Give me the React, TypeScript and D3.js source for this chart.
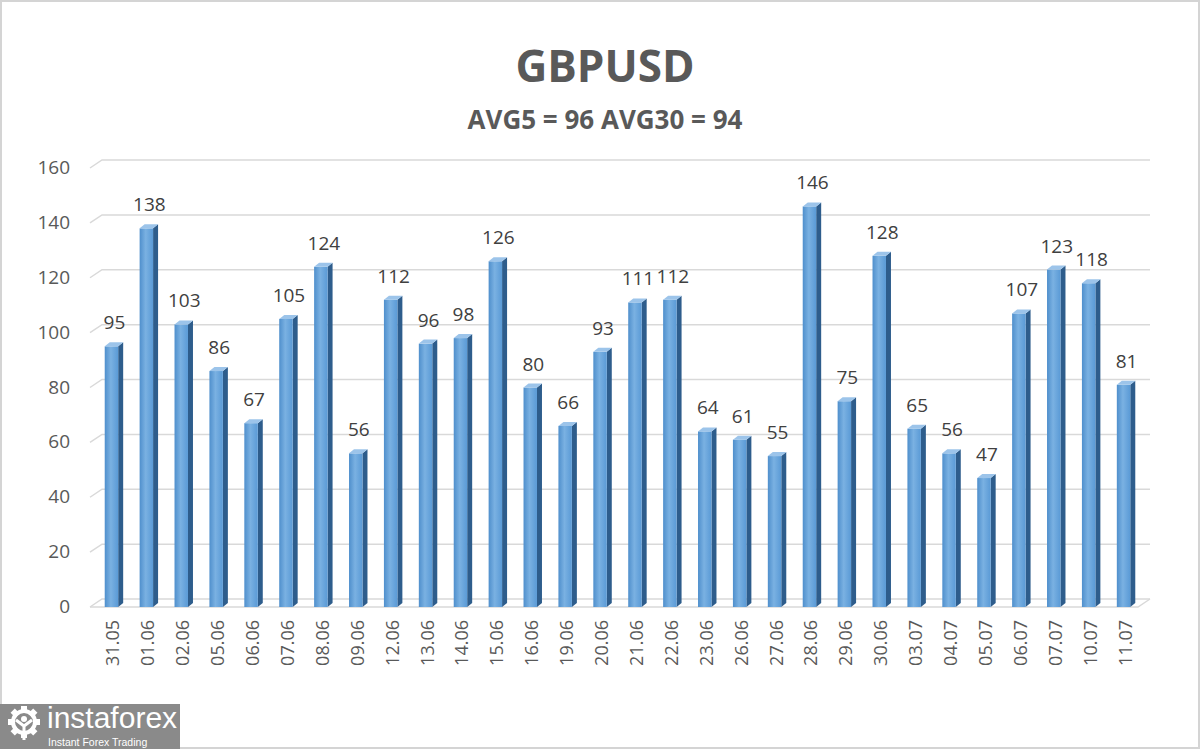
import { useRef, useEffect } from 'react';
import * as d3 from 'd3';

const dates = ['31.05', '01.06', '02.06', '05.06', '06.06', '07.06', '08.06', '09.06', '12.06', '13.06',
  '14.06', '15.06', '16.06', '19.06', '20.06', '21.06', '22.06', '23.06', '26.06', '27.06',
  '28.06', '29.06', '30.06', '03.07', '04.07', '05.07', '06.07', '07.07', '10.07', '11.07'];
const values = [95, 138, 103, 86, 67, 105, 124, 56, 112, 96, 98, 126, 80, 66, 93, 111, 112, 64, 61, 55,
  146, 75, 128, 65, 56, 47, 107, 123, 118, 81];
const yTicks = [0, 20, 40, 60, 80, 100, 120, 140, 160];
const title = 'GBPUSD';
const subtitle = 'AVG5 = 96 AVG30 = 94';

export default function App() {
  const svgRef = useRef<SVGSVGElement>(null);

  useEffect(() => {
    if (!svgRef.current) return;
    const width = 1200;
    const height = 749;
    const font = '"Open Sans", "Liberation Sans", sans-serif';
    const depthX = 12, depthY = 8; // 3d offset of back wall

    const svg = d3.select(svgRef.current);
    svg.selectAll('*').remove();
    svg.attr('width', width).attr('height', height);

    const defs = svg.append('defs');
    const grad = defs.append('linearGradient').attr('id', 'barFront')
      .attr('x1', 0).attr('x2', 1).attr('y1', 0).attr('y2', 0);
    grad.append('stop').attr('offset', '0%').attr('stop-color', '#4f8fcc');
    grad.append('stop').attr('offset', '45%').attr('stop-color', '#7ab1e2');
    grad.append('stop').attr('offset', '100%').attr('stop-color', '#5a9ad6');

    svg.append('rect').attr('x', 1).attr('y', 1).attr('width', width - 2).attr('height', height - 2)
      .attr('fill', '#fff').attr('stroke', '#d4d4d4').attr('stroke-width', 2);

    const x = d3.scaleBand().domain(dates).range([96, 1143]).paddingInner(0.5).paddingOuter(0.25);
    const yFront = d3.scaleLinear().domain([0, 160]).range([607, 168]);
    const yBack = (v: number) => yFront(v) - depthY;
    const plotLeft = 90, plotRight = 1138;

    // gridlines (back wall + floor)
    const grid = svg.append('g');
    yTicks.forEach(t => {
      grid.append('path')
        .attr('d', `M${plotLeft},${yFront(t)} L${plotLeft + depthX},${yBack(t)} L${plotRight + depthX},${yBack(t)}`)
        .attr('fill', 'none').attr('stroke', '#d9d9d9').attr('stroke-width', 1.5);
    });
    grid.append('path')
      .attr('d', `M${plotLeft},${yFront(0)} L${plotRight},${yFront(0)} L${plotRight + depthX},${yBack(0)}`)
      .attr('fill', 'none').attr('stroke', '#d9d9d9').attr('stroke-width', 1.5);

    // y labels
    svg.append('g').selectAll('text').data(yTicks).join('text')
      .attr('x', 70).attr('y', d => yFront(d) + 6)
      .attr('text-anchor', 'end').attr('font-family', font).attr('font-size', 19)
      .attr('fill', '#595959').text(d => d);

    // bars
    const bw = x.bandwidth();
    const side = 5, lift = 4;
    const bars = svg.append('g').selectAll('g').data(values).join('g');
    bars.append('path')
      .attr('d', (d, i) => {
        const x0 = x(dates[i])! + bw - side + 1;
        return `M${x0},${yFront(d)} L${x0 + side},${yFront(d) - lift} L${x0 + side},${yFront(0) - lift} L${x0},${yFront(0)} Z`;
      })
      .attr('fill', '#2e5d8c');
    bars.append('rect')
      .attr('x', (d, i) => x(dates[i])!)
      .attr('y', d => yFront(d))
      .attr('width', bw - side + 1)
      .attr('height', d => yFront(0) - yFront(d))
      .attr('fill', 'url(#barFront)');
    bars.append('path')
      .attr('d', (d, i) => {
        const x0 = x(dates[i])!;
        const x1 = x0 + bw - side + 1;
        return `M${x0},${yFront(d)} L${x0 + side},${yFront(d) - lift} L${x1 + side},${yFront(d) - lift} L${x1},${yFront(d)} Z`;
      })
      .attr('fill', '#9cc4ea');
    bars.append('text')
      .attr('x', (d, i) => x(dates[i])! + bw / 2 + 1)
      .attr('y', d => yFront(d) - 17)
      .attr('text-anchor', 'middle').attr('font-family', font).attr('font-size', 19)
      .attr('fill', '#404040').text(d => d);

    // x labels
    svg.append('g').selectAll('text').data(dates).join('text')
      .attr('transform', d => `translate(${x(d)! + bw / 2 + 6},620) rotate(-90)`)
      .attr('text-anchor', 'end').attr('font-family', font).attr('font-size', 18)
      .attr('fill', '#595959').text(d => d);

    // titles
    svg.append('text').attr('x', 605).attr('y', 82).attr('text-anchor', 'middle')
      .attr('font-family', font).attr('font-weight', 'bold').attr('font-size', 44)
      .attr('fill', '#595959').text(title);
    svg.append('text').attr('x', 605).attr('y', 129).attr('text-anchor', 'middle')
      .attr('font-family', font).attr('font-weight', 'bold').attr('font-size', 26)
      .attr('fill', '#595959').text(subtitle);

    // logo
    const logo = svg.append('g');
    logo.append('rect').attr('x', 0).attr('y', 704).attr('width', 180).attr('height', 45).attr('fill', '#8a8a8a');
    const gear = logo.append('g').attr('transform', 'translate(24,722)');
    d3.range(8).forEach(k => {
      gear.append('rect').attr('x', -3).attr('y', -16).attr('width', 6).attr('height', 7)
        .attr('fill', '#fff').attr('transform', `rotate(${k * 45})`);
    });
    gear.append('circle').attr('r', 11).attr('fill', 'none').attr('stroke', '#fff').attr('stroke-width', 4);
    gear.append('circle').attr('cy', -3).attr('r', 3).attr('fill', '#fff');
    gear.append('path').attr('d', 'M-8,-2 L0,4 L8,-2 M0,4 L0,18').attr('stroke', '#fff')
      .attr('stroke-width', 3).attr('fill', 'none');
    logo.append('text').attr('x', 47).attr('y', 728).attr('font-family', '"Liberation Sans", Arial, sans-serif')
      .attr('font-size', 30).attr('fill', '#fff').text('instaforex');
    logo.append('text').attr('x', 48).attr('y', 746).attr('font-family', '"Liberation Sans", Arial, sans-serif')
      .attr('font-size', 10.5).attr('fill', '#fff').text('Instant Forex Trading');
  }, []);

  return (
    <div style={{ position: 'absolute', left: 0, top: 0 }}>
      <svg ref={svgRef} style={{ display: 'block' }} />
    </div>
  );
}
